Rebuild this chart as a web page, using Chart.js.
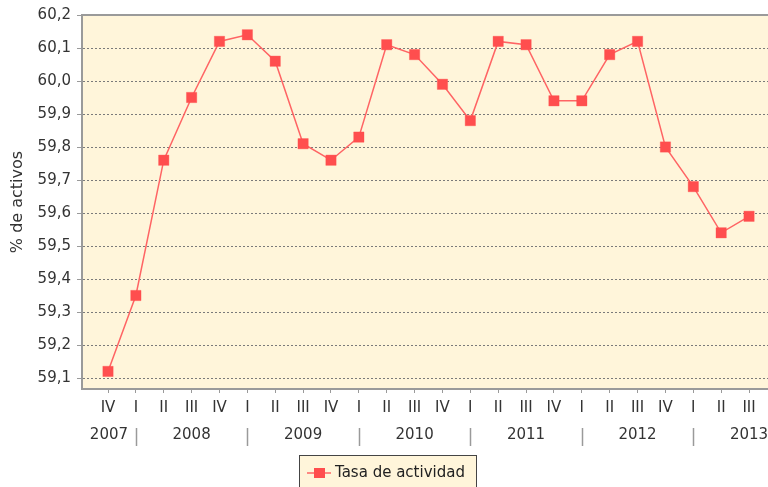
<!DOCTYPE html>
<html>
<head>
<meta charset="utf-8">
<title>Tasa de actividad</title>
<script src="https://cdn.jsdelivr.net/npm/chart.js"></script>
<style>
  body { margin: 0; background: #fff; }
</style>
</head>
<body>
<canvas id="chart" width="768" height="487"></canvas>
<script>
// Quarters on the x axis (IV 2007 .. III 2013)
const quarters = ['IV',
  'I', 'II', 'III', 'IV',
  'I', 'II', 'III', 'IV',
  'I', 'II', 'III', 'IV',
  'I', 'II', 'III', 'IV',
  'I', 'II', 'III', 'IV',
  'I', 'II', 'III'];
const years = ['2007', '2008', '2009', '2010', '2011', '2012', '2013'];
const rates = [59.12,
  59.35, 59.76, 59.95, 60.12,
  60.14, 60.06, 59.81, 59.76,
  59.83, 60.11, 60.08, 59.99,
  59.88, 60.12, 60.11, 59.94,
  59.94, 60.08, 60.12, 59.80,
  59.68, 59.54, 59.59];
const yTicks = [59.1, 59.2, 59.3, 59.4, 59.5, 59.6, 59.7, 59.8, 59.9, 60.0, 60.1, 60.2];
const seriesLabel = 'Tasa de actividad';

const FONT = 'DejaVu Sans';
const GRID = '#9a9a9a';
const TEXT = '#333';
const CREAM = '#fff5da';
const RED = 'rgb(255, 78, 78)';

// background of the plot, outline, year row and legend
const decor = {
  id: 'decor',
  beforeDraw(chart) {
    const {ctx, chartArea: a} = chart;
    ctx.save();
    ctx.fillStyle = CREAM;
    ctx.fillRect(a.left, a.top, a.right - a.left, a.bottom - a.top);
    ctx.restore();
  },
  afterDraw(chart) {
    const {ctx, chartArea: a} = chart;
    const x = chart.scales.x;
    ctx.save();
    // top border of the plot
    ctx.strokeStyle = GRID;
    ctx.lineWidth = 2;
    ctx.beginPath();
    ctx.moveTo(a.left, a.top);
    ctx.lineTo(a.right, a.top);
    ctx.stroke();

    // year row: a group starts at each quarter I
    const starts = [];
    quarters.forEach((q, i) => { if (q === 'I') starts.push(i); });
    const groups = [starts[0] - 4].concat(starts);
    ctx.font = '15px "' + FONT + '"';
    ctx.fillStyle = TEXT;
    ctx.textAlign = 'center';
    ctx.textBaseline = 'middle';
    years.forEach((y, k) => {
      const s = Math.max(groups[k], x.min);
      const e = groups[k] + 4;
      const cx = x.getPixelForValue((s + e) / 2);
      ctx.fillText(y, cx, 435);
    });
    ctx.strokeStyle = GRID;
    ctx.lineWidth = 1.5;
    starts.forEach(i => {
      const px = Math.round(x.getPixelForValue(i)) + 0.5;
      ctx.beginPath();
      ctx.moveTo(px, 428);
      ctx.lineTo(px, 446);
      ctx.stroke();
    });

    // legend
    const ds = chart.data.datasets[0];
    ctx.fillStyle = CREAM;
    ctx.fillRect(299.5, 455.5, 177, 40);
    ctx.strokeStyle = '#444';
    ctx.lineWidth = 1;
    ctx.strokeRect(299.5, 455.5, 177, 40);
    ctx.strokeStyle = ds.borderColor;
    ctx.lineWidth = 1.5;
    ctx.beginPath();
    ctx.moveTo(307, 473);
    ctx.lineTo(331, 473);
    ctx.stroke();
    ctx.fillStyle = ds.pointBackgroundColor;
    ctx.fillRect(314, 468, 11, 10);
    ctx.fillStyle = '#222';
    ctx.textAlign = 'left';
    ctx.fillText(ds.label, 335, 473);
    ctx.restore();
  }
};

new Chart(document.getElementById('chart'), {
  type: 'line',
  data: {
    datasets: [{
      label: seriesLabel,
      data: rates.map((v, i) => ({x: i, y: v})),
      borderColor: 'rgb(255, 100, 100)',
      borderWidth: 1.5,
      pointStyle: 'rect',
      pointRadius: 7.3,
      pointBackgroundColor: RED,
      pointBorderColor: 'rgba(255, 78, 78, 0.7)',
      pointBorderWidth: 0.5,
      tension: 0
    }]
  },
  options: {
    responsive: false,
    animation: false,
    layout: { autoPadding: false, padding: { top: 15, left: 0, right: 0, bottom: 0 } },
    plugins: {
      legend: { display: false },
      tooltip: { enabled: false }
    },
    scales: {
      x: {
        type: 'linear',
        min: -0.933,
        max: 23.68,
        afterBuildTicks: s => { s.ticks = quarters.map((q, i) => ({value: i})); },
        afterFit: s => { s.height = 98; s.paddingLeft = 0; s.paddingRight = 0; },
        ticks: {
          autoSkip: false,
          maxRotation: 0,
          padding: 6,
          color: TEXT,
          font: { family: FONT, size: 15 },
          callback: v => quarters[v]
        },
        grid: {
          drawOnChartArea: false,
          tickLength: 4,
          tickColor: GRID,
          tickWidth: 1
        },
        border: { display: true, color: GRID, width: 2 }
      },
      y: {
        min: 59.0667,
        max: 60.2,
        afterBuildTicks: s => { s.ticks = yTicks.map(v => ({value: v})); },
        afterFit: s => { s.width = 82; },
        ticks: {
          padding: 6,
          color: TEXT,
          font: { family: FONT, size: 15 },
          callback: v => v.toFixed(1).replace('.', ',')
        },
        grid: {
          color: '#7a7a7a',
          lineWidth: 1,
          tickLength: 5,
          tickColor: GRID,
          tickBorderDash: []
        },
        border: { display: true, color: GRID, width: 2, dash: [2, 2] },
        title: {
          display: true,
          text: '% de activos',
          color: TEXT,
          font: { family: FONT, size: 16 },
          padding: { top: 8, bottom: 4 }
        }
      }
    }
  },
  plugins: [decor]
});
</script>
</body>
</html>
